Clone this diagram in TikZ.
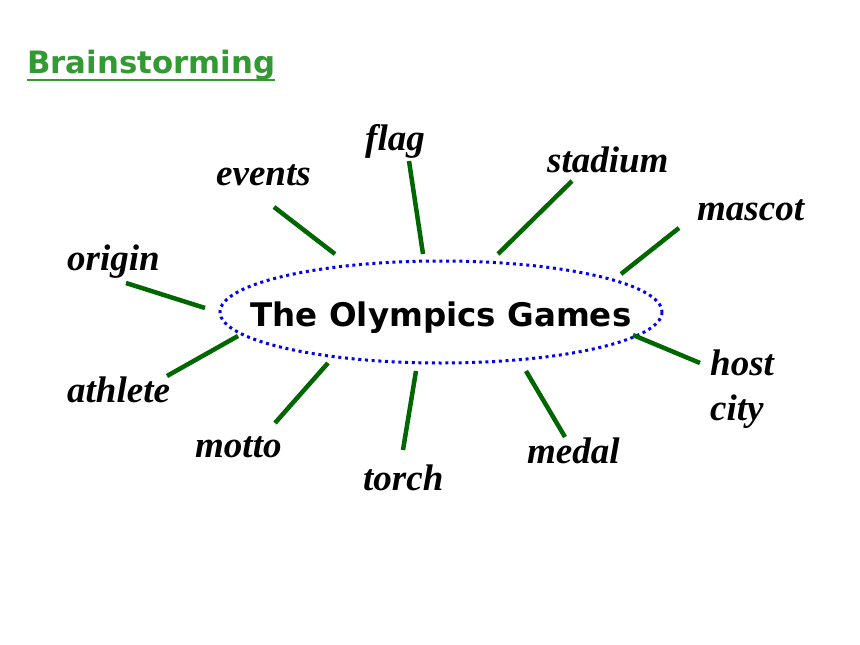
\documentclass[tikz,border=0pt]{standalone}
\usepackage{fontspec}
\setmainfont{Liberation Serif}
\newfontfamily\handfont{DejaVu Sans}
\usetikzlibrary{positioning}
\definecolor{spokegreen}{RGB}{0,102,0}
\definecolor{headgreen}{RGB}{51,153,51}
\tikzstyle{word} = [font=\fontsize{37}{45}\selectfont\bfseries\itshape,
  inner sep=0pt, anchor=base west, align=left]
\tikzstyle{spoke} = [draw=spokegreen, line width=4.5pt]
\tikzstyle{hub} = [inner sep=0pt, anchor=base,
  font=\handfont\bfseries\fontsize{32.5}{36}\selectfont]
\tikzstyle{hubline} = [draw=blue, line width=3pt, dash pattern=on 3pt off 3.7pt]

\begin{document}
\begin{tikzpicture}[x=1pt, y=-1pt]
    \useasboundingbox (0,0) rectangle (860,645);

    \node [inner sep=0pt, anchor=base west, text=headgreen,
      font=\handfont\bfseries\fontsize{30.8}{34}\selectfont] (head) at (27,73) {Brainstorming};
    \draw [headgreen, line width=2pt] ([yshift=-7pt]head.base west) -- ([yshift=-7pt]head.base east);

    \coordinate (hubcentre) at (441,312);
    \node [hub] (games) at (441,326) {The Olympics Games};
    \path [hubline] (hubcentre) ellipse [x radius=221, y radius=51];

    % words round the hub
    \node [word] (origin) at (67,270) {origin};
    \node [word] (events) at (216,185) {events};
    \node [word] (flag) at (365,150) {flag};
    \node [word] (stadium) at (547,172) {stadium};
    \node [word] (mascot) at (697,220) {mascot};
    \node [word] (hostcity) at (710,420) {host\\city};
    \node [word] (medal) at (527,463) {medal};
    \node [word] (torch) at (363,490) {torch};
    \node [word] (motto) at (195,457) {motto};
    \node [word] (athlete) at (67,402) {athlete};

    % spoke ends
    \coordinate (origin-out) at (126,283);   \coordinate (origin-in) at (205,308);
    \coordinate (events-out) at (274,207);   \coordinate (events-in) at (335,254);
    \coordinate (flag-out) at (409,161);     \coordinate (flag-in) at (423,254);
    \coordinate (stadium-out) at (572,181);  \coordinate (stadium-in) at (498,254);
    \coordinate (mascot-out) at (679,228);   \coordinate (mascot-in) at (621,274);
    \coordinate (hostcity-out) at (700,363); \coordinate (hostcity-in) at (633,335);
    \coordinate (medal-out) at (565,437);    \coordinate (medal-in) at (526,371);
    \coordinate (torch-out) at (403,450);    \coordinate (torch-in) at (416,371);
    \coordinate (motto-out) at (275,423);    \coordinate (motto-in) at (328,363);
    \coordinate (athlete-out) at (167,376);  \coordinate (athlete-in) at (238,336);

    \path [spoke] (origin-out) -- (origin-in);
    \path [spoke] (events-out) -- (events-in);
    \path [spoke] (flag-out) -- (flag-in);
    \path [spoke] (stadium-out) -- (stadium-in);
    \path [spoke] (mascot-out) -- (mascot-in);
    \path [spoke] (hostcity-out) -- (hostcity-in);
    \path [spoke] (medal-out) -- (medal-in);
    \path [spoke] (torch-out) -- (torch-in);
    \path [spoke] (motto-out) -- (motto-in);
    \path [spoke] (athlete-out) -- (athlete-in);
\end{tikzpicture}
\end{document}
